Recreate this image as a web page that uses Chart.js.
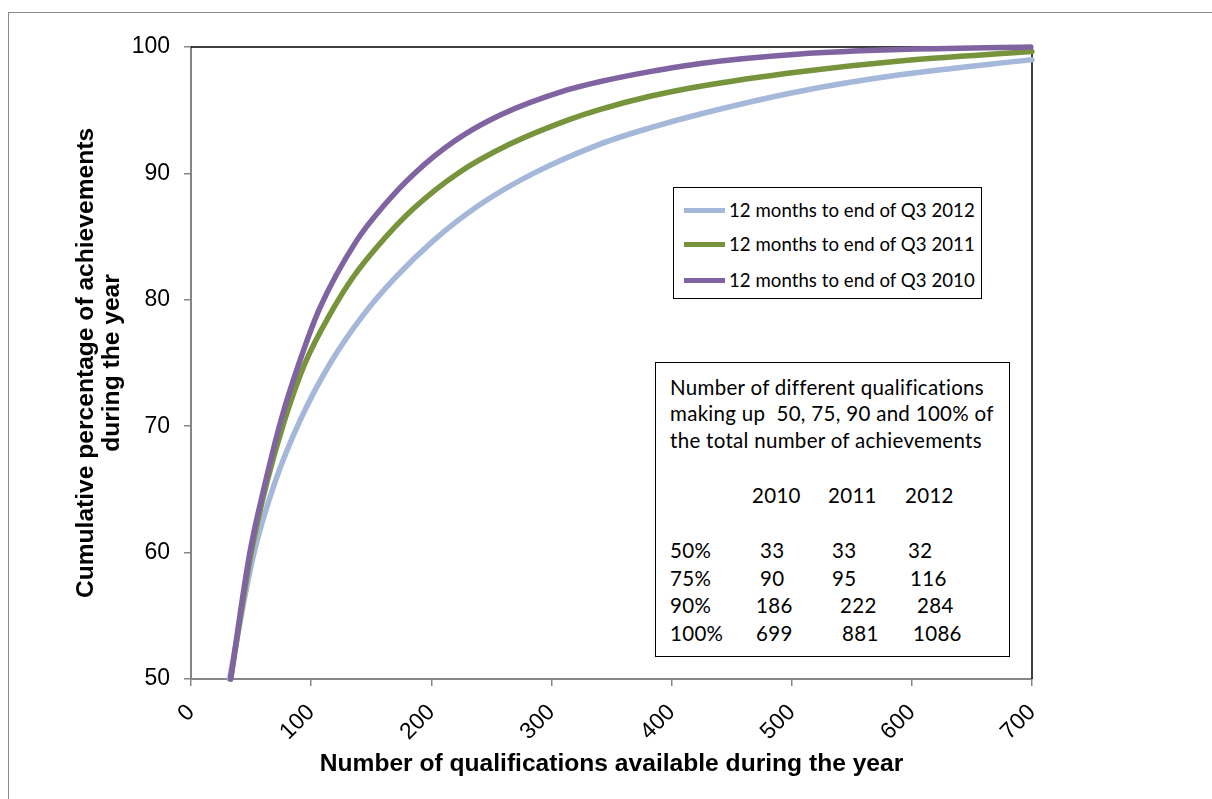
<!DOCTYPE html>
<html><head><meta charset="utf-8">
<script src="https://cdn.jsdelivr.net/npm/chart.js@4.4.0/dist/chart.umd.min.js"></script>
<style>
html,body{margin:0;padding:0;background:#fff;}
#wrap{position:relative;width:1212px;height:799px;overflow:hidden;background:#fff;}
#frame{position:absolute;left:8px;top:12px;width:1400px;height:1000px;border:1.5px solid #8a8a8a;box-sizing:border-box;}
#c{position:absolute;left:0;top:0;}
.box{position:absolute;border:1px solid #000;background:#fff;font-family:Lato,'Open Sans',sans-serif;color:#000;box-sizing:border-box;}
.t{position:absolute;white-space:pre;line-height:26px;height:26px;}
#legend .t{font-size:18.6px;letter-spacing:0.05px;}
#note .t{font-size:20.5px;letter-spacing:0.3px;}
.sw{position:absolute;height:5px;width:41px;}
</style></head>
<body><div id="wrap"><div id="frame"></div><canvas id="c" width="1212" height="799"></canvas>
<div id="legend" class="box" style="left:673px;top:187px;width:309px;height:112px;"></div>
<div id="note" class="box" style="left:655px;top:362px;width:355px;height:295px;"></div>
</div>
<script>
// ---- data ----
const seriesLabels = ['12 months to end of Q3 2012','12 months to end of Q3 2011','12 months to end of Q3 2010'];
const seriesColors = ['#A5B8D9','#77933C','#8064A2'];
const x2012 = [32, 52, 70, 91, 116, 143, 170, 202, 240, 285, 340, 382, 424, 507, 590, 700];
const y2012 = [50, 59.8, 65.6, 70.5, 75, 78.75, 81.75, 84.7, 87.5, 90, 92.3, 93.6, 94.7, 96.5, 97.8, 99.0];
const x2011 = [33, 50, 63, 78, 95, 116, 135, 155, 185, 222, 265, 313, 340, 382, 424, 507, 590, 700];
const y2011 = [50, 60, 65.5, 70.5, 75, 78.9, 81.8, 84.2, 87.2, 90, 92.3, 94.2, 95.05, 96.1, 96.9, 98.05, 98.9, 99.65];
const x2010 = [33, 49, 61, 75, 90, 107, 138, 160, 186, 220, 257, 313, 340, 382, 424, 507, 590, 699];
const y2010 = [50, 60, 65.2, 70.5, 75, 79.3, 84.7, 87.4, 90, 92.6, 94.6, 96.6, 97.25, 98.05, 98.7, 99.45, 99.8, 100];
const xTicks = [0,100,200,300,400,500,600,700];
const yTicks = [50,60,70,80,90,100];
const xTitle = 'Number of qualifications available during the year';
const yTitle = ['Cumulative percentage of achievements','during the year'];
const noteLines = ['Number of different qualifications','making up  50, 75, 90 and 100% of','the total number of achievements'];
const noteYears = ['2010','2011','2012'];
const noteRowLabels = ['50%','75%','90%','100%'];
const note2010 = ['33','90','186','699'];
const note2011 = ['33','95','222','881'];
const note2012 = ['32','116','284','1086'];

// ---- legend & note (text) ----
const leg = document.getElementById('legend');
[0,1,2].forEach(i=>{
  const cy = [22,56,92][i];
  const sw = document.createElement('div'); sw.className='sw';
  sw.style.left='10px'; sw.style.top=(cy-2.5)+'px'; sw.style.background=seriesColors[i];
  leg.appendChild(sw);
  const t = document.createElement('div'); t.className='t'; t.textContent=seriesLabels[i];
  t.style.left='55px'; t.style.top=(cy-13)+'px'; leg.appendChild(t);
});
const note = document.getElementById('note');
function put(txt,x,cy){const t=document.createElement('div');t.className='t';t.textContent=txt;t.style.left=x+'px';t.style.top=(cy-13)+'px';note.appendChild(t);}
noteLines.forEach((s,i)=>put(s,14,[24,50,77][i]));
noteYears.forEach((s,i)=>put(s,[96,172,249][i],132));
const rowY=[187,215,242,270];
noteRowLabels.forEach((s,i)=>put(s,14,rowY[i]));
const colX=[[104,104,100,100],[176,176,184,186],[252,254,261,257]];
[note2010,note2011,note2012].forEach((col,c)=>col.forEach((s,i)=>put(s,colX[c][i],rowY[i])));

// ---- chart ----
const pts=(xs,ys)=>xs.map((x,i)=>({x:x,y:ys[i]}));
const frameLines = {
  id:'frameLines',
  beforeDatasetsDraw(chart){
    const {ctx, chartArea:a} = chart;
    ctx.save(); ctx.strokeStyle='#000'; ctx.lineWidth=1.5;
    ctx.beginPath(); ctx.moveTo(a.left,a.top); ctx.lineTo(a.right,a.top); ctx.lineTo(a.right,a.bottom); ctx.stroke();
    ctx.restore();
  }
};
const tickFont = {family:"'Liberation Sans', Arial, sans-serif", size:23};
const titleFont = {family:"'Liberation Sans', Arial, sans-serif", size:24.6, weight:'bold', lineHeight:1.03};
new Chart(document.getElementById('c'), {
  type:'line',
  data:{datasets:[
    {label:seriesLabels[0], data:pts(x2012,y2012), borderColor:seriesColors[0], order:3},
    {label:seriesLabels[1], data:pts(x2011,y2011), borderColor:seriesColors[1], order:2},
    {label:seriesLabels[2], data:pts(x2010,y2010), borderColor:seriesColors[2], order:1}
  ]},
  options:{
    responsive:false, animation:false,
    layout:{padding:{left:0,top:47,right:180,bottom:0}},
    datasets:{line:{borderWidth:5.5, pointRadius:0, cubicInterpolationMode:'monotone', fill:false, clip:false, borderCapStyle:'round'}},
    plugins:{legend:{display:false}, tooltip:{enabled:false}},
    scales:{
      x:{type:'linear', min:xTicks[0], max:xTicks[xTicks.length-1],
        afterBuildTicks(s){s.ticks=xTicks.map(v=>({value:v}));},
        afterFit(s){s.height=120;},
        ticks:{font:tickFont, color:'#000', maxRotation:45, minRotation:45, padding:13, autoSkip:false},
        grid:{drawOnChartArea:false, tickLength:7, color:'#868686', lineWidth:1.5},
        border:{color:'#868686', width:2},
        title:{display:true, text:xTitle, font:titleFont, color:'#000', padding:{top:0,bottom:22}}
      },
      y:{type:'linear', min:yTicks[0], max:yTicks[yTicks.length-1],
        afterBuildTicks(s){s.ticks=yTicks.map(v=>({value:v}));},
        afterFit(s){s.width=191;},
        ticks:{font:tickFont, color:'#000', padding:14},
        grid:{drawOnChartArea:false, tickLength:7, color:'#868686', lineWidth:1.5},
        border:{color:'#868686', width:2},
        title:{display:true, text:yTitle, font:titleFont, color:'#000', padding:{top:74,bottom:0}}
      }
    }
  },
  plugins:[frameLines]
});
</script></body></html>
